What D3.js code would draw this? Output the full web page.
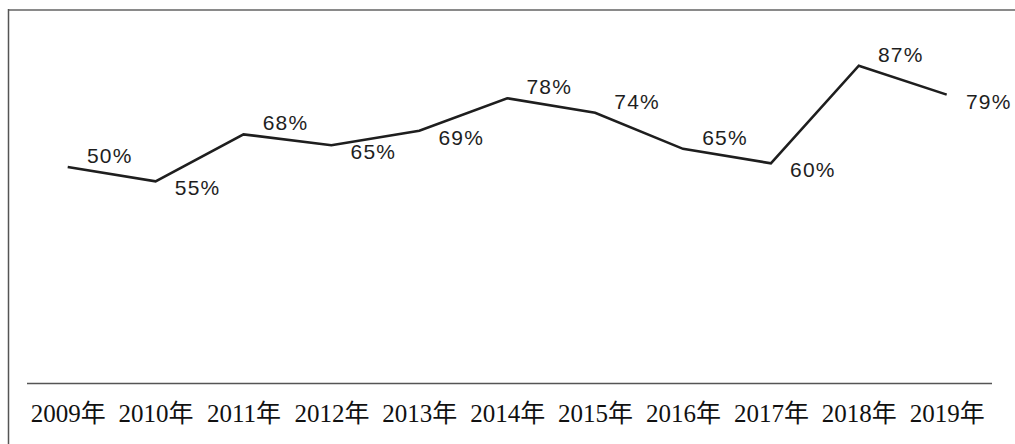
<!DOCTYPE html>
<html>
<head>
<meta charset="utf-8">
<script src="https://cdn.jsdelivr.net/npm/d3@7"></script>
<style>
  html, body { margin: 0; padding: 0; background: #fff; }
  svg { display: block; }
</style>
</head>
<body>
<svg id="chart" width="1015" height="444"></svg>
<script>
// ---- data ----
const years = ["2009年","2010年","2011年","2012年","2013年","2014年","2015年","2016年","2017年","2018年","2019年"];
// values as plotted by the line in the picture
const lineValues = [59, 55, 68, 65, 69, 78, 74, 64, 60, 87, 79];
// value labels as printed next to the points
const valueLabels = ["50%","55%","68%","65%","69%","78%","74%","65%","60%","87%","79%"];
const labelSide = ["above","below","above","below","below","above","above","above","below","above","below"];

// ---- layout ----
const svg = d3.select("#chart");
const W = 1015, H = 444;

const x = d3.scalePoint().domain(years).range([67.7, 946.7]);
const y = d3.scaleLinear().domain([0, 100]).range([380.2, 18.7]);

// frame
svg.append("line").attr("x1", 8).attr("x2", W).attr("y1", 10).attr("y2", 10)
  .attr("stroke", "#8a8a8a").attr("stroke-width", 2);
svg.append("line").attr("x1", 8.5).attr("x2", 8.5).attr("y1", 9).attr("y2", H)
  .attr("stroke", "#555").attr("stroke-width", 1.5);

// baseline axis
const axisG = svg.append("g").attr("transform", "translate(0,383.5)")
  .call(d3.axisBottom(x).tickSize(0).tickPadding(0));
axisG.select(".domain").remove();
axisG.append("line").attr("x1", 27).attr("x2", 992).attr("y1", 0).attr("y2", 0)
  .attr("stroke", "#555").attr("stroke-width", 1.5);
axisG.selectAll(".tick text")
  .attr("y", 38.5)
  .attr("dy", 0)
  .attr("fill", "#111")
  .style("font-family", "'Liberation Serif', 'Noto Sans CJK JP', serif")
  .style("font-size", "25px");

// line
const line = d3.line()
  .x((d, i) => x(years[i]))
  .y(d => y(d));
svg.append("path")
  .datum(lineValues)
  .attr("d", line)
  .attr("fill", "none")
  .attr("stroke", "#1e1e1e")
  .attr("stroke-width", 2.6)
  .attr("stroke-linejoin", "miter");

// value labels
svg.append("g").selectAll("text")
  .data(valueLabels)
  .join("text")
  .attr("x", (d, i) => x(years[i]) + 42)
  .attr("y", (d, i) => y(lineValues[i]) + (labelSide[i] === "above" ? -4 : 14))
  .attr("text-anchor", "middle")
  .attr("fill", "#1e1e1e")
  .style("font-family", "'Liberation Sans', Arial, sans-serif")
  .style("font-size", "21px")
  .style("letter-spacing", "1.2px")
  .text(d => d);
</script>
</body>
</html>
